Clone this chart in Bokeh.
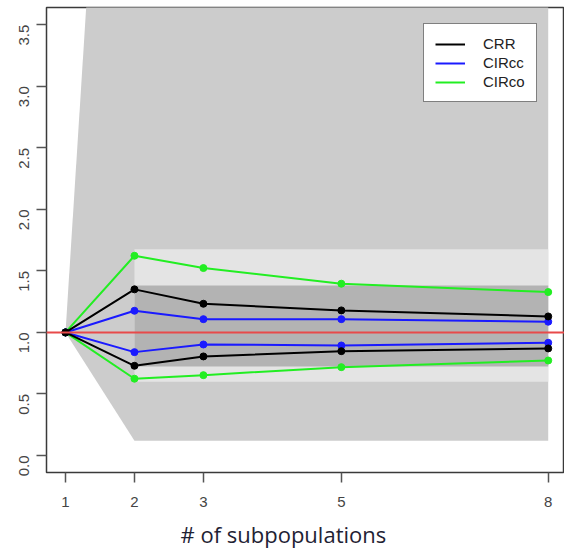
import math
from bokeh.plotting import figure
from bokeh.models import FixedTicker, Legend, LegendItem, Range1d, Title, Span, CustomJSTickFormatter
from bokeh.embed import file_html
from bokeh.resources import INLINE

# ---- data ----
subpops = [1, 2, 3, 5, 8]
crr_upper = [1.0, 1.35, 1.233, 1.179, 1.13]
crr_lower = [1.0, 0.729, 0.805, 0.848, 0.87]
circc_upper = [1.0, 1.176, 1.108, 1.108, 1.087]
circc_lower = [1.0, 0.84, 0.902, 0.894, 0.916]
circo_upper = [1.0, 1.623, 1.523, 1.396, 1.328]
circo_lower = [1.0, 0.624, 0.653, 0.718, 0.772]

outer_x = [1, 2, 3, 5, 8]
outer_upper = [1.0, 9.8, 9.8, 9.8, 9.8]
outer_lower = [1.0, 0.12, 0.12, 0.12, 0.12]

light_x = [2, 8]
light_upper = [1.675, 1.675]
light_lower = [0.60, 0.60]

dark_x = [2, 8]
dark_upper = [1.382, 1.382]
dark_lower = [0.724, 0.724]

ref_value = 1.0
x_ticks = [1, 2, 3, 5, 8]
y_ticks = [0.0, 0.5, 1.0, 1.5, 2.0, 2.5, 3.0, 3.5]
x_title = "# of subpopulations"

# ---- figure ----
p = figure(width=564, height=556, output_backend="svg", toolbar_location=None,
           x_range=Range1d(0.7245, 8.236), y_range=Range1d(-0.138, 3.640),
           min_border_left=46, min_border_right=0, min_border_top=7, min_border_bottom=84)
p.grid.visible = False
p.background_fill_color = "white"
p.border_fill_color = "white"
p.outline_line_color = "#3a3a3a"
p.outline_line_width = 1.5

p.varea(x=outer_x, y1=outer_lower, y2=outer_upper, fill_color="#cccccc")
p.varea(x=light_x, y1=light_lower, y2=light_upper, fill_color="#e4e4e4")
p.varea(x=dark_x, y1=dark_lower, y2=dark_upper, fill_color="#b3b3b3")

p.add_layout(Span(location=ref_value, dimension="width", line_color="#e84a4a", line_width=2))

def series(upper, lower, color):
    r1 = p.line(subpops, upper, line_color=color, line_width=2)
    p.line(subpops, lower, line_color=color, line_width=2)
    p.scatter(subpops, upper, size=7, fill_color=color, line_color=color)
    p.scatter(subpops, lower, size=7, fill_color=color, line_color=color)
    return r1

r_co = series(circo_upper, circo_lower, "#22ee22")
r_cc = series(circc_upper, circc_lower, "#1a1aff")
r_crr = series(crr_upper, crr_lower, "black")

# axes
for ax in (p.xaxis[0], p.yaxis[0]):
    ax.axis_line_color = None
    ax.major_tick_line_color = "#555555"
    ax.major_tick_line_width = 1.5
    ax.major_tick_out = 10
    ax.major_tick_in = 0
    ax.minor_tick_line_color = None
    ax.major_label_text_font = "Liberation Sans"
    ax.major_label_text_font_size = "15px"
    ax.major_label_text_color = "#444444"

p.xaxis.ticker = FixedTicker(ticks=x_ticks)
p.xaxis.major_label_standoff = 14
p.yaxis.ticker = FixedTicker(ticks=y_ticks)
p.yaxis.formatter = CustomJSTickFormatter(code="return tick.toFixed(1);")
p.yaxis.major_label_orientation = math.pi / 2
p.yaxis.major_label_standoff = 12

p.add_layout(Title(text=x_title, align="left", offset=134, standoff=15,
                   text_baseline="middle",
                   text_font="Open Sans", text_font_size="22px", text_font_style="normal",
                   text_color="#1f2233"), "below")

legend = Legend(items=[LegendItem(label="CRR", renderers=[r_crr]),
                       LegendItem(label="CIRcc", renderers=[r_cc]),
                       LegendItem(label="CIRco", renderers=[r_co])],
                location=(377, 370), margin=0, padding=11, spacing=2,
                glyph_width=30, glyph_height=14, label_height=14, label_standoff=18,
                label_text_font="Liberation Sans", label_text_font_size="15px",
                label_text_color="#222222",
                border_line_color="black", border_line_width=1,
                background_fill_color="white", background_fill_alpha=1.0)
p.add_layout(legend)

open("out.html", "w").write(file_html(p, INLINE))
